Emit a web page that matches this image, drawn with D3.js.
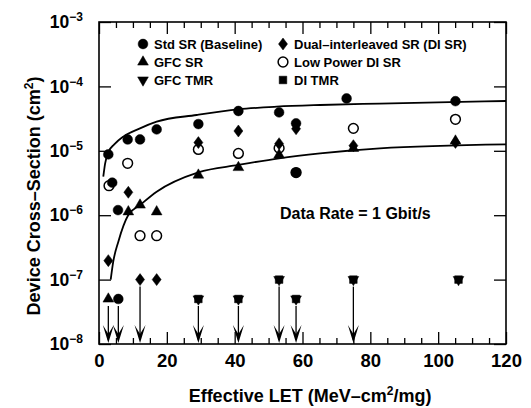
<!DOCTYPE html>
<html>
<head>
<meta charset="utf-8">
<script src="https://cdn.jsdelivr.net/npm/d3@7"></script>
<style>
body { margin: 0; background: #fff; }
svg { display: block; font-family: "Liberation Sans", Arial, sans-serif; font-weight: bold; }
</style>
</head>
<body>
<svg id="chart"></svg>
<script>
// LET (MeV-cm2/mg) vs cross-section (cm2)
const stdSR = [[2.75, 8.8e-6], [3.9, 3.2e-6], [5.6, 1.2e-6], [5.7, 5e-8], [8.45, 1.5e-5], [12.1, 1.5e-5],
    [17, 2.15e-5], [29.3, 2.6e-5], [41.1, 4.15e-5], [53.1, 3.95e-5], [58.1, 2.67e-5], [58.1, 4.6e-6],
    [73, 6.5e-5], [105.1, 5.9e-5]];
const gfcSR = [[2.75, 5e-8], [8.65, 1.13e-6], [12.1, 1.44e-6], [17, 1.13e-6], [29.3, 4.2e-6],
    [41.1, 5.5e-6], [53.1, 8.6e-6], [75, 1.09e-5], [105.1, 1.42e-5]];
const gfcTMR = [[29.3, 5e-8], [41.1, 5e-8], [53.1, 1e-7], [58.1, 5e-8], [75, 1e-7], [106, 1e-7]];
const diSR = [[2.75, 1.97e-7], [8.65, 2.27e-6], [12.1, 1e-7], [17, 1e-7], [29.3, 1.34e-5], [41.1, 2.03e-5],
    [53.1, 1.29e-5], [58.1, 2.2e-5], [75, 1.2e-5], [105.1, 1.35e-5]];
const lowPowerDISR = [[2.95, 2.87e-6], [8.45, 6.4e-6], [12.1, 4.8e-7], [17, 4.8e-7], [29.3, 1.05e-5],
    [41.1, 9.1e-6], [53.1, 1.1e-5], [58.1, 4.6e-6], [75, 2.23e-5], [105.1, 3.08e-5]];
const diTMR = [[29.3, 5e-8], [41.1, 5e-8], [53.1, 1e-7], [58.1, 5e-8], [75, 1e-7], [106, 1e-7]];

// "no upset" arrows: LET and where the arrow starts
const arrowLET = [2.75, 5.7, 12.1, 29.3, 41.1, 53.1, 58.1, 75];
const arrowFrom = [5e-8, 5e-8, 1e-7, 5e-8, 5e-8, 1e-7, 5e-8, 1e-7];

// fit curves
const upperFit = [[1.27, 10 ** -5.40], [1.8, 10 ** -5.2], [2.74, 10 ** -5.02], [4.5, 10 ** -4.9], [7.16, 10 ** -4.78],
    [12.09, 10 ** -4.651], [17.0, 10 ** -4.548], [28.8, 10 ** -4.444], [41.1, 10 ** -4.356],
    [52.4, 10 ** -4.315], [65.2, 10 ** -4.289], [82.8, 10 ** -4.266], [120, 10 ** -4.227]];
const lowerFit = [[3.45, 1e-7], [4.2, 10 ** -6.722], [5.7, 10 ** -6.411], [8.64, 10 ** -5.997],
    [12.1, 10 ** -5.842], [17.0, 10 ** -5.635], [29.3, 10 ** -5.334], [41.1, 10 ** -5.220],
    [53.1, 10 ** -5.116], [65.2, 10 ** -5.039], [82.8, 10 ** -4.961], [120, 10 ** -4.899]];

const xMajor = [0, 20, 40, 60, 80, 100, 120];
const yTicks = [1e-8, 1e-7, 1e-6, 1e-5, 1e-4, 1e-3];

const width = 531, height = 408;
const margin = { top: 22, right: 25, bottom: 64, left: 99 };

const svg = d3.select("#chart").attr("width", width).attr("height", height);

const x = d3.scaleLinear().domain([0, 120]).range([margin.left, width - margin.right]);
const y = d3.scaleLog().domain([1e-8, 1e-3]).range([height - margin.bottom, margin.top]);

// minor x ticks (every 5) on bottom and top
const xMinor = d3.range(0, 121, 5).filter(v => v % 20 !== 0);
svg.append("g")
    .attr("transform", `translate(0,${height - margin.bottom})`)
    .call(d3.axisBottom(x).tickValues(xMinor).tickSize(-6).tickFormat(""))
    .call(g => g.select(".domain").remove());
svg.append("g")
    .attr("transform", `translate(0,${margin.top})`)
    .call(d3.axisTop(x).tickValues(xMinor).tickSize(-6).tickFormat(""))
    .call(g => g.select(".domain").remove());

// major x ticks with labels
svg.append("g")
    .attr("transform", `translate(0,${height - margin.bottom})`)
    .call(d3.axisBottom(x).tickValues(xMajor).tickSize(-12).tickPadding(10).tickFormat(d => d))
    .call(g => g.select(".domain").remove())
    .selectAll("text")
    .attr("font-size", 18.5)
    .attr("font-weight", "bold")
    .attr("font-family", "'Liberation Sans', Arial, sans-serif")
    .attr("fill", "#000");
svg.append("g")
    .attr("transform", `translate(0,${margin.top})`)
    .call(d3.axisTop(x).tickValues(xMajor).tickSize(-12).tickFormat(""))
    .call(g => g.select(".domain").remove());

// y ticks (decades) left and right
const yLeft = svg.append("g")
    .attr("transform", `translate(${margin.left},0)`)
    .call(d3.axisLeft(y).tickValues(yTicks).tickSize(-12).tickPadding(16).tickFormat(""))
    .call(g => g.select(".domain").remove());
yLeft.selectAll(".tick text").each(function(d) {
    const t = d3.select(this)
        .attr("font-family", "'Liberation Sans', Arial, sans-serif")
        .attr("font-weight", "bold")
        .attr("fill", "#000")
        .attr("font-size", 17.5);
    t.append("tspan").text("10");
    t.append("tspan").attr("font-size", 12).attr("dy", -7).text("\u2212" + Math.round(-Math.log10(d)));
});
svg.append("g")
    .attr("transform", `translate(${width - margin.right},0)`)
    .call(d3.axisRight(y).tickValues(yTicks).tickSize(-12).tickFormat(""))
    .call(g => g.select(".domain").remove());

svg.selectAll(".tick line").attr("stroke", "#000").attr("stroke-width", 1.3);

// frame
svg.append("rect")
    .attr("x", margin.left)
    .attr("y", margin.top)
    .attr("width", width - margin.left - margin.right)
    .attr("height", height - margin.top - margin.bottom)
    .attr("fill", "none")
    .attr("stroke", "#000")
    .attr("stroke-width", 1.6);

// fits
const line = d3.line()
    .x(d => x(d[0]))
    .y(d => y(d[1]))
    .curve(d3.curveMonotoneX);
[upperFit, lowerFit].forEach(pts => {
    svg.append("path")
        .attr("d", line(pts))
        .attr("fill", "none")
        .attr("stroke", "#000")
        .attr("stroke-width", 1.8);
});

// arrows
const yBottom = y(1e-8);
arrowLET.forEach((v, i) => {
    const ax = x(v);
    svg.append("line")
        .attr("x1", ax).attr("x2", ax)
        .attr("y1", y(arrowFrom[i]) + 7)
        .attr("y2", yBottom - 4)
        .attr("stroke", "#000")
        .attr("stroke-width", 1.3);
    svg.append("path")
        .attr("d", `M${ax},${yBottom - 1} L${ax - 5.5},${yBottom - 19} L${ax},${yBottom - 10} L${ax + 5.5},${yBottom - 19} Z`)
        .attr("fill", "#000");
});

// markers
const sym = {
    circle: d3.symbol().type(d3.symbolCircle).size(75)(),
    triangle: d3.symbol().type(d3.symbolTriangle).size(50)(),
    diamond: "M0,-6L4.5,0L0,6L-4.5,0Z",
    square: d3.symbol().type(d3.symbolSquare).size(58)()
};
const series = [
    { name: "DI TMR", data: diTMR, path: sym.square, rot: 0, fill: "#000" },
    { name: "GFC TMR", data: gfcTMR, path: sym.triangle, rot: 180, fill: "#000" },
    { name: "GFC SR", data: gfcSR, path: sym.triangle, rot: 0, fill: "#000" },
    { name: "Std SR (Baseline)", data: stdSR, path: sym.circle, rot: 0, fill: "#000" },
    { name: "Dual\u2013interleaved SR (DI SR)", data: diSR, path: sym.diamond, rot: 0, fill: "#000" },
    { name: "Low Power DI SR", data: lowPowerDISR, path: sym.circle, rot: 0, fill: "none" }
];
series.forEach(s => {
    svg.append("g").selectAll("path")
        .data(s.data)
        .join("path")
        .attr("d", s.path)
        .attr("transform", d => `translate(${x(d[0])},${y(d[1])}) rotate(${s.rot})`)
        .attr("fill", s.fill)
        .attr("stroke", "#000")
        .attr("stroke-width", s.fill === "none" ? 1.5 : 0.5);
});

// legend
const legendItems = [
    { s: series[3], col: 0, row: 0 }, { s: series[2], col: 0, row: 1 }, { s: series[1], col: 0, row: 2 },
    { s: series[4], col: 1, row: 0 }, { s: series[5], col: 1, row: 1 }, { s: series[0], col: 1, row: 2 }
];
const legend = svg.append("g").attr("font-size", 13);
legendItems.forEach(it => {
    const lx = it.col === 0 ? 143 : 283;
    const ly = 44 + it.row * 18;
    legend.append("path")
        .attr("d", it.s.path)
        .attr("transform", `translate(${lx},${ly}) rotate(${it.s.rot})`)
        .attr("fill", it.s.fill)
        .attr("stroke", "#000")
        .attr("stroke-width", it.s.fill === "none" ? 1.5 : 0.5);
    legend.append("text")
        .attr("x", lx + 11)
        .attr("y", ly)
        .attr("dy", "0.36em")
        .text(it.s.name);
});

svg.append("text")
    .attr("x", 280)
    .attr("y", 219)
    .attr("font-size", 16)
    .text("Data Rate = 1 Gbit/s");

// axis titles
const xt = svg.append("text")
    .attr("x", 310)
    .attr("y", 402)
    .attr("text-anchor", "middle")
    .attr("font-size", 18);
xt.append("tspan").text("Effective LET (MeV\u2013cm");
xt.append("tspan").attr("font-size", 12).attr("dy", -7).text("2");
xt.append("tspan").attr("dy", 7).text("/mg)");

const yt = svg.append("text")
    .attr("transform", "translate(40,196) rotate(-90)")
    .attr("text-anchor", "middle")
    .attr("font-size", 18);
yt.append("tspan").text("Device Cross\u2013Section (cm");
yt.append("tspan").attr("font-size", 12).attr("dy", -7).text("2");
yt.append("tspan").attr("dy", 7).text(")");
</script>
</body>
</html>
